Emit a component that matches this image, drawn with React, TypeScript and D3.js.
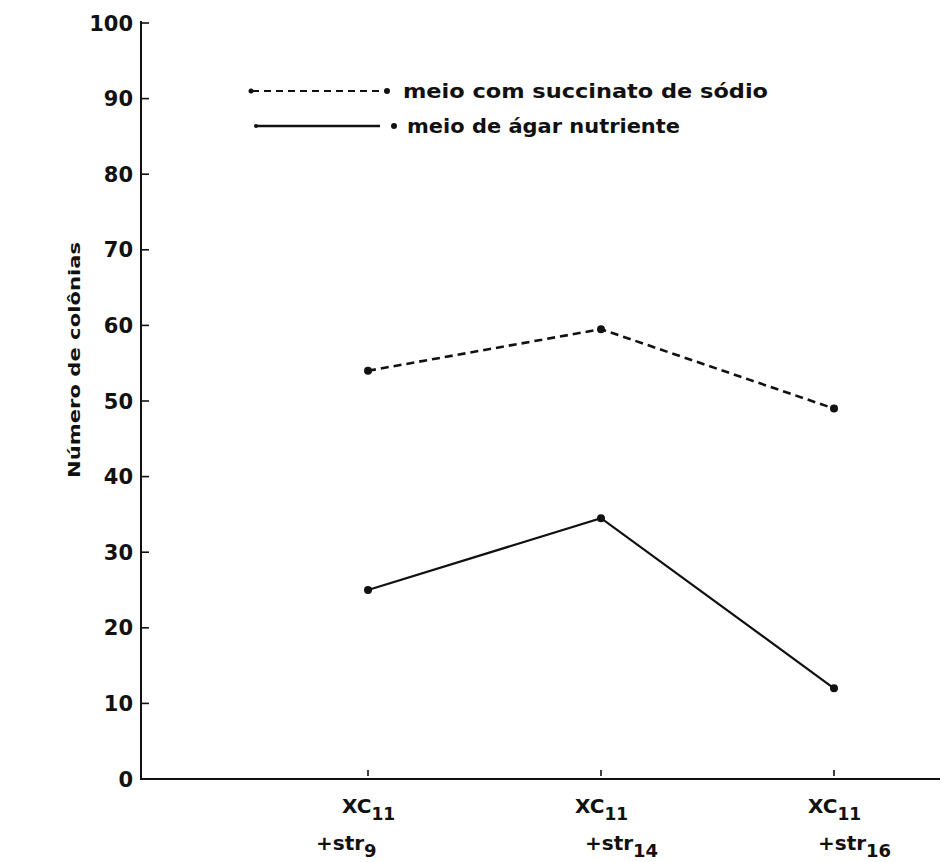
import React from "react";
import * as d3 from "d3";

const categories = ["XC11+str9", "XC11+str14", "XC11+str16"];
const labelMain = ["XC", "XC", "XC"];
const labelMainSub = ["11", "11", "11"];
const labelSecond = ["+str", "+str", "+str"];
const labelSecondSub = ["9", "14", "16"];
const succinato = [54, 59.5, 49];
const agar = [25, 34.5, 12];
const yTicks = [0, 10, 20, 30, 40, 50, 60, 70, 80, 90, 100];
const legendLabels = ["meio com succinato de sódio", "meio de ágar nutriente"];
const yTitle = "Número de colônias";

const W = 945;
const H = 862;
const FONT = "'DejaVu Sans', sans-serif";

export default function App() {
  const x0 = 141;
  const x1 = 940;
  const y = d3.scaleLinear().domain([0, 100]).range([779, 23]);
  const x = d3.scalePoint<string>().domain(categories).range([368, 834]);
  const line = d3
    .line<number>()
    .x((_, i) => x(categories[i]) as number)
    .y((d) => y(d));

  return (
    <svg
      width={W}
      height={H}
      style={{ position: "absolute", left: 0, top: 0, background: "#fff" }}
      fontFamily={FONT}
    >
      <rect x={0} y={0} width={W} height={H} fill="#ffffff" />
      {/* axes */}
      <line x1={x0} y1={y(100) - 2} x2={x0} y2={y(0) + 1} stroke="#111" strokeWidth={2} />
      <line x1={x0} y1={y(0)} x2={x1} y2={y(0)} stroke="#111" strokeWidth={2.2} />
      {yTicks.map((t) => (
        <g key={t}>
          {t > 0 && (
            <line x1={x0 + 1} x2={x0 + 8} y1={y(t)} y2={y(t)} stroke="#111" strokeWidth={1.6} />
          )}
          <text
            x={x0 - 8}
            y={y(t)}
            dy="0.36em"
            textAnchor="end"
            fontSize={21}
            fontWeight="bold"
            fill="#111"
          >
            {t}
          </text>
        </g>
      ))}
      {/* y title */}
      <text
        transform={`translate(80, 360) rotate(-90)`}
        textAnchor="middle"
        fontSize={16.5}
        fontWeight="bold"
        fill="#111"
        textLength={236}
        lengthAdjust="spacingAndGlyphs"
      >
        {yTitle}
      </text>
      {/* x ticks and labels */}
      {categories.map((c, i) => {
        const cx = x(c) as number;
        return (
          <g key={c}>
            <line x1={cx} x2={cx} y1={y(0) - 9} y2={y(0) - 3} stroke="#111" strokeWidth={1.6} />
            <text x={cx - 26} y={813} fontSize={20} fontWeight="bold" fill="#111">
              {labelMain[i]}
              <tspan fontSize={17} dy={7}>
                {labelMainSub[i]}
              </tspan>
            </text>
            <text x={cx - (i === 0 ? 52 : 16)} y={850} fontSize={20} fontWeight="bold" fill="#111">
              {labelSecond[i]}
              <tspan fontSize={18} dy={7}>
                {labelSecondSub[i]}
              </tspan>
            </text>
          </g>
        );
      })}
      {/* series */}
      <path d={line(succinato) || ""} fill="none" stroke="#111" strokeWidth={2.6} strokeDasharray="8,5" />
      <path d={line(agar) || ""} fill="none" stroke="#111" strokeWidth={2.2} />
      {succinato.map((v, i) => (
        <circle key={"s" + i} cx={x(categories[i]) as number} cy={y(v)} r={4} fill="#111" />
      ))}
      {agar.map((v, i) => (
        <circle key={"a" + i} cx={x(categories[i]) as number} cy={y(v)} r={4} fill="#111" />
      ))}
      {/* legend */}
      <g>
        <line x1={252} x2={385} y1={91} y2={91} stroke="#111" strokeWidth={2.2} strokeDasharray="7,5" />
        <circle cx={251} cy={91} r={2.5} fill="#111" />
        <circle cx={387} cy={91} r={3} fill="#111" />
        <text x={403} y={98} fontSize={19} fontWeight="bold" fill="#111" textLength={365} lengthAdjust="spacingAndGlyphs">
          {legendLabels[0]}
        </text>
        <line x1={256} x2={380} y1={126} y2={126} stroke="#111" strokeWidth={2.4} />
        <circle cx={256} cy={126} r={2} fill="#111" />
        <circle cx={394} cy={126} r={3} fill="#111" />
        <text x={407} y={133} fontSize={19} fontWeight="bold" fill="#111" textLength={273} lengthAdjust="spacingAndGlyphs">
          {legendLabels[1]}
        </text>
      </g>
    </svg>
  );
}
